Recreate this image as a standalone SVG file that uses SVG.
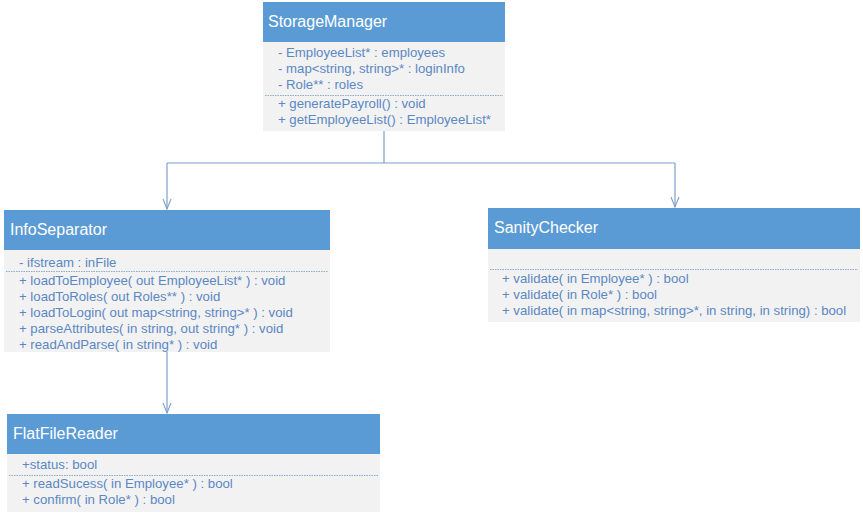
<svg xmlns="http://www.w3.org/2000/svg" width="863" height="515" viewBox="0 0 863 515">
<defs>
<style>
.hdr{fill:#5B9BD5;}
.body{fill:#F2F2F2;}
.title{font-family:"Liberation Sans",Arial,sans-serif;font-size:16px;fill:#FFFFFF;}
.txt{font-family:"Liberation Sans",Arial,sans-serif;font-size:13.2px;fill:#5B87C4;}
.sep{stroke:#8FA9CC;stroke-width:1;stroke-dasharray:1.5 1;fill:none;}
.conn{stroke:#7EA0CC;stroke-width:1.2;fill:none;}
</style>
<marker id="arr" viewBox="0 0 12 10" refX="11" refY="5" markerWidth="12" markerHeight="10" markerUnits="userSpaceOnUse" orient="auto">
<path d="M1,1 L11,5 L1,9" fill="none" stroke="#7EA0CC" stroke-width="1.1"/>
</marker>
</defs>
<rect width="863" height="515" fill="#FFFFFF"/>

<g id="connectors">
<path class="conn" d="M384,131 V163 M167,163 H675"/>
<path class="conn" d="M167,163 V209" marker-end="url(#arr)"/>
<path class="conn" d="M675,163 V207" marker-end="url(#arr)"/>
<path class="conn" d="M167,352 V413" marker-end="url(#arr)"/>
</g>

<g id="StorageManager">
<rect class="body" x="263" y="41" width="242" height="90"/>
<rect class="hdr" x="263" y="2" width="242" height="40"/>
<text class="title" x="268" y="27">StorageManager</text>
<text class="txt" x="278" y="57">- EmployeeList* : employees</text>
<text class="txt" x="278" y="73">- map&lt;string, string&gt;* : loginInfo</text>
<text class="txt" x="278" y="89">- Role** : roles</text>
<line class="sep" x1="265" y1="95.5" x2="503" y2="95.5"/>
<text class="txt" x="278" y="108">+ generatePayroll() : void</text>
<text class="txt" x="278" y="124">+ getEmployeeList() : EmployeeList*</text>
</g>

<g id="InfoSeparator">
<rect class="body" x="4" y="249" width="326" height="103"/>
<rect class="hdr" x="4" y="210" width="326" height="40"/>
<text class="title" x="10" y="235">InfoSeparator</text>
<text class="txt" x="19" y="267">- ifstream : inFile</text>
<line class="sep" x1="6" y1="271.5" x2="328" y2="271.5"/>
<text class="txt" x="19" y="285">+ loadToEmployee( out EmployeeList* ) : void</text>
<text class="txt" x="19" y="301">+ loadToRoles( out Roles** ) : void</text>
<text class="txt" x="19" y="317">+ loadToLogin( out map&lt;string, string&gt;* ) : void</text>
<text class="txt" x="19" y="333">+ parseAttributes( in string, out string* ) : void</text>
<text class="txt" x="19" y="349">+ readAndParse( in string* ) : void</text>
</g>

<g id="SanityChecker">
<rect class="body" x="488" y="248" width="372" height="74"/>
<rect class="hdr" x="488" y="208" width="372" height="41"/>
<text class="title" x="494" y="233">SanityChecker</text>
<line class="sep" x1="490" y1="269.5" x2="858" y2="269.5"/>
<text class="txt" x="502" y="283">+ validate( in Employee* ) : bool</text>
<text class="txt" x="502" y="299">+ validate( in Role* ) : bool</text>
<text class="txt" x="502" y="315">+ validate( in map&lt;string, string&gt;*, in string, in string) : bool</text>
</g>

<g id="FlatFileReader">
<rect class="body" x="7" y="453" width="373" height="59"/>
<rect class="hdr" x="7" y="414" width="373" height="40"/>
<text class="title" x="13" y="439">FlatFileReader</text>
<text class="txt" x="22" y="469">+status: bool</text>
<line class="sep" x1="9" y1="475.5" x2="378" y2="475.5"/>
<text class="txt" x="22" y="488">+ readSucess( in Employee* ) : bool</text>
<text class="txt" x="22" y="504">+ confirm( in Role* ) : bool</text>
</g>
</svg>
